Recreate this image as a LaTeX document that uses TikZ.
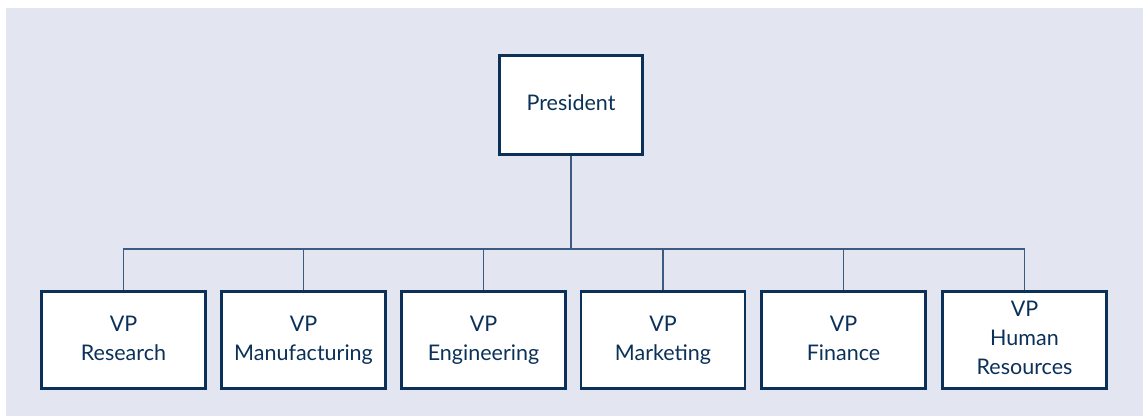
\documentclass[tikz,border=0pt]{standalone}
\usepackage{fontspec}
\setmainfont{Lato}
\definecolor{panel}{HTML}{E3E6F0}
\definecolor{navy}{HTML}{0B3158}
\definecolor{link}{HTML}{3D5A80}
\begin{document}
\begin{tikzpicture}[x=1pt,y=-1pt,
  box/.style={draw=navy,line width=2.8pt,fill=white,minimum width=164pt,minimum height=97pt,
    align=center,text=navy,font=\fontsize{21.5}{29}\selectfont,inner sep=0pt},
  conn/.style={draw=link,line width=1.4pt}]
\useasboundingbox (0,0) rectangle (1143,416);
\fill[panel] (6,8) rectangle (1143,416);
\node[box,minimum width=143pt,minimum height=99pt] (pres) at (571,105) {\strut President};
\node[box] (v1) at (123.5,340) {\strut VP\\\strut Research};
\node[box] (v2) at (303.5,340) {\strut VP\\\strut Manufacturing};
\node[box] (v3) at (483.5,340) {\strut VP\\\strut Engineering};
\node[box] (v4) at (663,340) {\strut VP\\\strut Marketing};
\node[box] (v5) at (843.5,340) {\strut VP\\\strut Finance};
\node[box] (v6) at (1024.5,340) {\strut VP\\\strut Human\\\strut Resources};
\coordinate (bar) at (571,249);
\draw[conn] (pres.south) -- (bar);
\draw[conn] (v1.north) |- (bar) -| (v6.north);
\foreach \v in {v2,v3,v4,v5} \draw[conn] (\v.north) -- (\v.north |- bar);
\end{tikzpicture}
\end{document}
